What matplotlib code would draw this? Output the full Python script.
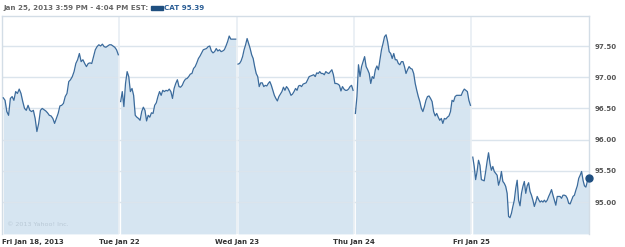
import numpy as np
import matplotlib.pyplot as plt
from matplotlib.patches import Rectangle

# CAT intraday prices, one list per trading day
day_labels = ["Fri Jan 18, 2013", "Tue Jan 22", "Wed Jan 23", "Thu Jan 24", "Fri Jan 25"]

fri18 = [96.67, 96.63, 96.45, 96.39, 96.66, 96.69, 96.63, 96.77, 96.74, 96.81, 96.74,
         96.61, 96.50, 96.47, 96.55, 96.47, 96.45, 96.47, 96.34, 96.13, 96.26, 96.47,
         96.50, 96.48, 96.46, 96.43, 96.39, 96.38, 96.34, 96.26, 96.34, 96.42, 96.54,
         96.55, 96.58, 96.69, 96.74, 96.93, 96.96, 97.01, 97.09, 97.22, 97.28, 97.38,
         97.25, 97.28, 97.22, 97.17, 97.22, 97.23, 97.22, 97.33, 97.44, 97.49, 97.52,
         97.50, 97.53, 97.49, 97.48, 97.50, 97.52, 97.52, 97.50, 97.48, 97.44, 97.36]

tue22 = [96.61, 96.77, 96.53, 96.90, 97.09, 97.01, 96.77, 96.82, 96.71, 96.39, 96.36,
         96.34, 96.31, 96.45, 96.52, 96.47, 96.30, 96.39, 96.36, 96.43, 96.42, 96.55,
         96.59, 96.69, 96.77, 96.71, 96.79, 96.77, 96.79, 96.78, 96.81, 96.77, 96.66,
         96.82, 96.90, 96.96, 96.85, 96.84, 96.87, 96.93, 96.97, 96.98, 97.01, 97.05,
         97.06, 97.14, 97.17, 97.23, 97.30, 97.34, 97.39, 97.44, 97.45, 97.46, 97.49,
         97.50, 97.42, 97.39, 97.41, 97.46, 97.42, 97.44, 97.41, 97.42, 97.44, 97.50,
         97.57, 97.66, 97.61, 97.61, 97.61, 97.61]

wed23 = [97.21, 97.22, 97.26, 97.33, 97.44, 97.52, 97.62, 97.54, 97.46, 97.36, 97.30,
         97.17, 97.06, 97.01, 96.85, 96.91, 96.91, 96.85, 96.87, 96.86, 96.90, 96.93,
         96.87, 96.79, 96.71, 96.66, 96.62, 96.69, 96.73, 96.77, 96.84, 96.79, 96.85,
         96.82, 96.77, 96.71, 96.73, 96.77, 96.82, 96.79, 96.86, 96.87, 96.85, 96.89,
         96.90, 96.91, 96.96, 97.01, 97.02, 97.03, 97.04, 97.01, 97.07, 97.06, 97.09,
         97.06, 97.06, 97.04, 97.09, 97.07, 97.06, 97.09, 97.12, 97.04, 96.90, 96.90,
         96.89, 96.87, 96.78, 96.85, 96.81, 96.79, 96.79, 96.81, 96.85, 96.87, 96.79]

thu24 = [96.42, 96.69, 97.20, 97.01, 97.17, 97.25, 97.33, 97.17, 97.12, 97.06, 96.90,
         97.01, 96.98, 97.12, 97.18, 97.12, 97.28, 97.44, 97.54, 97.65, 97.68, 97.57,
         97.41, 97.38, 97.30, 97.38, 97.28, 97.28, 97.22, 97.20, 97.25, 97.25, 97.17,
         97.06, 97.12, 97.17, 97.14, 97.13, 97.06, 96.90, 96.79, 96.69, 96.61, 96.50,
         96.45, 96.53, 96.63, 96.69, 96.70, 96.66, 96.61, 96.45, 96.38, 96.42, 96.36,
         96.31, 96.34, 96.26, 96.34, 96.33, 96.36, 96.38, 96.45, 96.63, 96.61, 96.69,
         96.71, 96.71, 96.71, 96.71, 96.77, 96.81, 96.79, 96.77, 96.63, 96.55]

fri25 = [95.72, 95.57, 95.36, 95.49, 95.67, 95.59, 95.36, 95.35, 95.34, 95.49, 95.65,
         95.79, 95.62, 95.51, 95.57, 95.49, 95.46, 95.43, 95.27, 95.35, 95.49, 95.33,
         95.30, 95.25, 95.14, 94.77, 94.75, 94.82, 94.93, 95.03, 95.22, 95.35, 95.03,
         94.94, 95.14, 95.25, 95.33, 95.14, 95.26, 95.31, 95.17, 95.11, 95.03, 94.93,
         95.00, 95.09, 95.04, 95.00, 95.02, 95.00, 95.03, 95.00, 95.03, 95.09, 95.14,
         95.20, 95.11, 95.03, 94.95, 95.09, 95.09, 95.09, 95.06, 95.11, 95.11, 95.10,
         95.06, 94.98, 94.97, 95.03, 95.09, 95.11, 95.19, 95.26, 95.38, 95.43, 95.49,
         95.35, 95.26, 95.24, 95.33, 95.39]

days = [fri18, tue22, wed23, thu24, fri25]
yticks = [95.00, 95.50, 96.00, 96.50, 97.00, 97.50]
last_price = 95.39

line_c = '#3b6b9c'
fill_c = '#d6e5f1'
grid_c = '#dbe4ec'

fig = plt.figure(figsize=(6.25, 2.47), dpi=100)
ax = fig.add_axes([0.003, 0.053, 0.939, 0.882])

ymin = 94.49
for i, p in enumerate(days):
    end = i + 0.992 if i < 4 else i + 1.0
    t = np.linspace(i + 0.012, end, len(p))
    ax.fill_between(t, p, ymin, color=fill_c, lw=0, zorder=1)
    ax.plot(t, p, color=line_c, lw=0.9, zorder=3)
    if i == 4:
        ax.plot(t[-1], last_price, 'o', color='#1f4f80', ms=5, zorder=4, clip_on=False)

for y in yticks:
    ax.axhline(y, color=grid_c, lw=1, zorder=2)
for d in range(1, 5):
    ax.axvline(d, color='#e8eef3', lw=1.2, zorder=2)

ax.set_xlim(0, 5)
ax.set_ylim(ymin, 97.98)
ax.set_xticks([0, 1, 2, 3, 4])
ax.set_xticklabels(day_labels, fontsize=5.0, fontweight='bold', color='#333333')
for k, lab in enumerate(ax.get_xticklabels()):
    if k == 0:
        lab.set_horizontalalignment('left')
ax.tick_params(axis='x', length=0, pad=3.5)
ax.yaxis.tick_right()
ax.set_yticks(yticks)
ax.set_yticklabels(['%.2f' % v for v in yticks], fontsize=5.0, fontweight='bold',
                   color='#555555')
ax.tick_params(axis='y', length=0, pad=4)
for s in ['top', 'right', 'left']:
    ax.spines[s].set_color('#d3dde6')
    ax.spines[s].set_linewidth(1)
ax.spines['bottom'].set_visible(False)

ax.text(0.008, 0.035, '\u00a9 2013 Yahoo! Inc.', transform=ax.transAxes,
        fontsize=4.6, color='#b9c9d6')

# header
fig.text(0.005, 0.967, 'Jan 25, 2013 3:59 PM - 4:04 PM EST:', fontsize=5.15,
         fontweight='bold', color='#666666', va='center')
fig.patches.append(Rectangle((0.242, 0.958), 0.018, 0.016, transform=fig.transFigure,
                             color='#1f4f80', figure=fig))
fig.text(0.262, 0.967, 'CAT 95.39', fontsize=5.15, fontweight='bold',
         color='#2a5d95', va='center')

fig.savefig('out.png', dpi=100)
